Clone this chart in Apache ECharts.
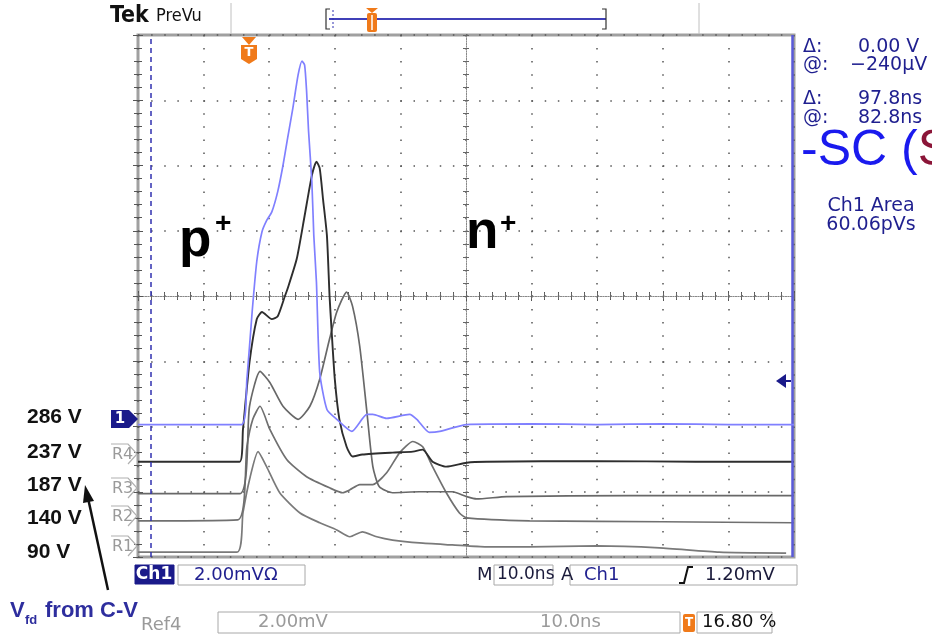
<!DOCTYPE html>
<html>
<head>
<meta charset="utf-8">
<title>PreVu</title>
<script src="https://cdn.jsdelivr.net/npm/echarts@6/dist/echarts.min.js"></script>
<style>
  html, body { margin: 0; padding: 0; background: #fff; }
  #chart { width: 932px; height: 636px; }
</style>
</head>
<body>
<div id="chart"></div>
<script>
// time in ns from the left edge of the screen (10 ns/div), signal in mV (2 mV/div, 0 = screen centre)
const ch1 = [[0,-3.94],[15.8,-3.94],[16.6,-2.55],[17.4,-0.49],[18.1,1.05],[18.9,1.97],[19.6,2.31],[20.4,2.58],
  [21.3,3.2],[22.1,4.0],[22.8,4.83],[23.6,5.75],[24.4,6.77],[25.0,7.2],[25.4,7.08],[25.7,6.28],[26.0,5.05],
  [26.5,3.51],[26.8,1.85],[27.2,0.43],[27.7,-2.34],[28.8,-3.48],[30.3,-3.78],[32.6,-4.15],[34.9,-3.63],
  [35.8,-3.63],[37.9,-3.75],[41.4,-3.63],[42.5,-3.78],[44.4,-4.18],[46.0,-4.15],[50.1,-3.94],[60,-3.92],
  [70,-3.94],[80,-3.92],[90,-3.94],[100,-3.94]]
const ref4 = [[0,-5.08],[15.5,-5.08],[16.0,-4.09],[17.0,-2.03],[18.1,-0.71],[18.9,-0.49],[20.4,-0.71],[21.3,-0.62],
  [22.4,0],[22.8,0.22],[24.2,1.14],[25.4,2.46],[26.5,3.69],[27.2,4.12],[27.7,3.91],[28.2,2.98],[28.8,1.85],
  [29.2,0],[29.5,-1.02],[30.0,-2.55],[30.7,-3.78],[31.8,-4.62],[32.7,-4.92],[34.2,-4.86],[38.8,-4.8],
  [41.9,-4.77],[43.4,-4.71],[44.9,-5.08],[47.0,-5.23],[50.1,-5.11],[53.1,-5.08],[70,-5.06],[85,-5.08],[100,-5.08]]
const ref3 = [[0,-6.06],[15.5,-6.06],[17.0,-3.38],[18.6,-2.31],[20.1,-2.65],[22.1,-3.38],[24.4,-3.78],[26.2,-3.38],
  [27.7,-2.55],[29.2,-1.32],[30.3,-0.49],[31.8,0.12],[32.7,-0.31],[33.8,-1.54],[34.9,-3.57],[35.8,-5.23],
  [36.8,-5.85],[38.8,-6.03],[42.9,-6.0],[47.9,-6.0],[50.1,-6.15],[51.6,-6.22],[56.2,-6.15],[75,-6.12],[100,-6.12]]
const ref2 = [[0,-6.89],[15.2,-6.86],[16.6,-4.62],[17.5,-3.78],[18.6,-3.38],[20.1,-4.09],[22.7,-5.02],[25.7,-5.54],
  [29.2,-5.88],[31.2,-6.03],[32.3,-5.94],[33.8,-5.78],[35.8,-5.78],[37.9,-5.42],[39.9,-4.8],[41.9,-4.46],
  [43.4,-4.62],[44.9,-5.23],[47.0,-6.03],[49.0,-6.65],[50.1,-6.8],[59.7,-6.89],[80,-6.92],[100,-6.95]]
const ref1 = [[0,-7.85],[15.1,-7.85],[16.0,-6.65],[17.0,-5.63],[18.3,-4.77],[19.6,-5.23],[21.6,-6.03],[24.7,-6.65],
  [27.7,-6.95],[30.3,-7.17],[32.3,-7.38],[34.2,-7.23],[36.4,-7.38],[38.8,-7.48],[42.9,-7.57],[47.9,-7.63],
  [53.1,-7.69],[59.7,-7.69],[69.9,-7.66],[79.5,-7.72],[88.6,-7.85],[98.8,-7.88]]

const biasLabels = ['286 V', '237 V', '187 V', '140 V', '90 V']
const refNames = ['R4', 'R3', 'R2', 'R1']
const cursorTimes = [2.0, 99.8]

const FONT = "'DejaVu Sans', sans-serif"
const NAVY = '#1f1f8f'
const ORANGE = '#f07a1a'

const myChart = echarts.init(document.getElementById('chart'))

// graticule lives in grid 0 (edges + dotted divisions), centre cross in grid 1
const plot = { left: 138, top: 35, width: 656, height: 522 }

const edgeTick = { show: true, inside: true, length: 5, lineStyle: { color: '#555', width: 1 } }
const edgeMinor = { show: true, splitNumber: 5, length: 4, lineStyle: { color: '#555', width: 1 } }
const centreLine = { show: true, onZero: true, lineStyle: { color: '#888', width: 1, type: [1, 1.5] } }
const centreTick = { show: true, length: 3, lineStyle: { color: '#666', width: 1 } }
const centreMinor = { show: true, splitNumber: 5, length: 3, lineStyle: { color: '#666', width: 1 } }

const xAxes = [
  { gridIndex: 0, type: 'value', min: 0, max: 100, interval: 10, position: 'bottom',
    axisLine: { show: false }, axisTick: edgeTick, minorTick: edgeMinor, axisLabel: { show: false },
    splitLine: { show: true, lineStyle: { color: '#555', width: 1.5, type: [1.5, 11.55] } } },
  { gridIndex: 0, type: 'value', min: 0, max: 100, interval: 10, position: 'top',
    axisLine: { show: false }, axisTick: edgeTick, minorTick: edgeMinor, axisLabel: { show: false },
    splitLine: { show: false } },
  { gridIndex: 1, type: 'value', min: -50, max: 50, interval: 10, position: 'bottom',
    axisLine: centreLine, axisTick: { ...centreTick, inside: true }, minorTick: centreMinor,
    axisLabel: { show: false }, splitLine: { show: false } },
  { gridIndex: 1, type: 'value', min: -50, max: 50, interval: 10, position: 'top',
    axisLine: centreLine, axisTick: { ...centreTick, inside: true }, minorTick: centreMinor,
    axisLabel: { show: false }, splitLine: { show: false } }
]
const yAxes = [
  { gridIndex: 0, type: 'value', min: -8, max: 8, interval: 2, position: 'left',
    axisLine: { show: false }, axisTick: edgeTick, minorTick: edgeMinor, axisLabel: { show: false },
    splitLine: { show: true, lineStyle: { color: '#555', width: 1.5, type: [1.5, 11.62] } } },
  { gridIndex: 0, type: 'value', min: -8, max: 8, interval: 2, position: 'right',
    axisLine: { show: false }, axisTick: edgeTick, minorTick: edgeMinor, axisLabel: { show: false },
    splitLine: { show: false } },
  { gridIndex: 1, type: 'value', min: -8, max: 8, interval: 2, position: 'left',
    axisLine: centreLine, axisTick: { ...centreTick, inside: true }, minorTick: centreMinor,
    axisLabel: { show: false }, splitLine: { show: false } },
  { gridIndex: 1, type: 'value', min: -8, max: 8, interval: 2, position: 'right',
    axisLine: centreLine, axisTick: { ...centreTick, inside: true }, minorTick: centreMinor,
    axisLabel: { show: false }, splitLine: { show: false } }
]

const trace = (name, data, color, z, w = 1.7) => ({
  name, type: 'line', data, xAxisIndex: 0, yAxisIndex: 0, showSymbol: false, smooth: 0.2,
  lineStyle: { color, width: w }, z, silent: true
})

const series = [
  trace('R1', ref1, '#7a7a7a', 3),
  trace('R2', ref2, '#707070', 3),
  trace('R3', ref3, '#686868', 3),
  trace('R4', ref4, '#2e2e2e', 4, 1.9),
  {
    ...trace('Ch1', ch1, '#8080ff', 5),
    markLine: {
      silent: true, symbol: 'none', label: { show: false },
      data: [
        { xAxis: cursorTimes[0], lineStyle: { color: '#3030b0', width: 1.5, type: [5, 4] } },
        { xAxis: cursorTimes[1], lineStyle: { color: '#5a5ad8', width: 2.5, type: 'solid' } }
      ]
    }
  }
]

// --- screen furniture ---
const txt = (x, y, text, opt = {}) => ({
  type: 'text', z: 20, silent: true,
  style: {
    x, y, text, fill: opt.fill || NAVY,
    font: opt.font || `16px ${FONT}`,
    textAlign: opt.align || 'left', textVerticalAlign: opt.va || 'middle'
  }
})
const box = (x, y, w, h, opt = {}) => ({
  type: 'rect', z: 19, silent: true, shape: { x, y, width: w, height: h },
  style: { fill: opt.fill || '#fff', stroke: opt.stroke || '#a8a8a8', lineWidth: 1 }
})
const poly = (points, opt = {}) => ({
  type: opt.closed ? 'polygon' : 'polyline', z: 20, silent: true, shape: { points },
  style: { fill: opt.fill || null, stroke: opt.stroke || null, lineWidth: opt.lw || 1 }
})
const line = (x1, y1, x2, y2, stroke, lw = 1, dash) => ({
  type: 'line', z: 20, silent: true, shape: { x1, y1, x2, y2 },
  style: { stroke, lineWidth: lw, lineDash: dash || null }
})

const graphic = []

// header
graphic.push(txt(110, 16, 'Tek', { font: `bold 23px 'DejaVu Sans Condensed', ${FONT}`, fill: '#111' }))
graphic.push(txt(156, 16, 'PreVu', { font: `18px 'DejaVu Sans Condensed', ${FONT}`, fill: '#111' }))
graphic.push(line(231, 3, 231, 34, '#c0c0c0', 1))
graphic.push(line(699, 3, 699, 34, '#c0c0c0', 1))
graphic.push(line(329, 19, 606, 19, '#4040b8', 2))
graphic.push(poly([[330, 9], [326, 9], [326, 29], [330, 29]], { stroke: '#333', lw: 1.2 }))
graphic.push(poly([[602, 9], [606, 9], [606, 29], [602, 29]], { stroke: '#333', lw: 1.2 }))
graphic.push(line(333, 10, 333, 28, '#3030b0', 1, [2, 2]))
graphic.push(poly([[366, 8], [378, 8], [372, 13]], { closed: true, fill: ORANGE }))
graphic.push({ type: 'rect', z: 20, silent: true, shape: { x: 367, y: 13, width: 10, height: 19, r: 2 },
  style: { fill: ORANGE } })
graphic.push(line(372, 15, 372, 30, '#fff', 1.5))

// trigger position marker on the screen top
graphic.push(poly([[242, 37], [256, 37], [249, 45]], { closed: true, fill: ORANGE }))
graphic.push(poly([[241, 45], [257, 45], [257, 59], [249, 64], [241, 59]], { closed: true, fill: ORANGE }))
graphic.push(txt(249, 53, 'T', { font: `bold 13px ${FONT}`, fill: '#fff', align: 'center' }))

// trigger level arrow on the right
graphic.push(poly([[776, 381], [786, 374], [786, 388]], { closed: true, fill: '#1a1a8a' }))
graphic.push(line(784, 381, 791, 381, '#1a1a8a', 2))

// channel / reference markers on the left edge
graphic.push(poly([[111, 410], [129, 410], [138, 419], [129, 428], [111, 428]], { closed: true, fill: '#1a1a8a' }))
graphic.push(txt(120, 419, '1', { font: `bold 15px ${FONT}`, fill: '#fff', align: 'center' }))
const refY = [454, 488, 516, 546]
refNames.forEach((n, i) => {
  const yc = refY[i]
  graphic.push(poly([[111, yc - 10], [128, yc - 10], [137, yc], [128, yc + 10]], { stroke: '#b0b0b0', lw: 1.2 }))
  graphic.push(txt(112, yc + 1, n, { font: `16px ${FONT}`, fill: '#9a9a9a' }))
})

// bias voltages
const biasY = [417, 452, 485, 518, 552]
biasLabels.forEach((t, i) => {
  graphic.push(txt(27, biasY[i], t, { font: "bold 21px 'Liberation Sans', Arial, sans-serif", fill: '#111' }))
})

// arrow + V_fd note
graphic.push(line(108, 590, 88, 498, '#111', 2.5))
graphic.push(poly([[85, 485], [94, 501], [83, 503]], { closed: true, fill: '#111' }))
graphic.push(txt(10, 611, 'V', { font: "bold 22px 'Liberation Sans', Arial, sans-serif", fill: '#2e2e9e' }))
graphic.push(txt(25, 620, 'fd', { font: "bold 13px 'Liberation Sans', Arial, sans-serif", fill: '#2e2e9e' }))
graphic.push(txt(45, 611, 'from C-V', { font: "bold 22px 'Liberation Sans', Arial, sans-serif", fill: '#2e2e9e' }))

// p+ / n+ labels
graphic.push(txt(179, 241, 'p', { font: "bold 53px 'Liberation Sans', Arial, sans-serif", fill: '#000' }))
graphic.push(txt(215, 224, '+', { font: "bold 28px 'Liberation Sans', Arial, sans-serif", fill: '#000' }))
graphic.push(txt(466, 233, 'n', { font: "bold 53px 'Liberation Sans', Arial, sans-serif", fill: '#000' }))
graphic.push(txt(500, 224, '+', { font: "bold 28px 'Liberation Sans', Arial, sans-serif", fill: '#000' }))

// cursor readouts
const RF = `19px ${FONT}`
graphic.push(txt(803, 47, 'Δ:', { font: RF }))
graphic.push(txt(858, 47, '0.00 V', { font: RF }))
graphic.push(txt(803, 65, '@:', { font: RF }))
graphic.push(txt(850, 65, '−240µV', { font: RF }))
graphic.push(txt(803, 99, 'Δ:', { font: RF }))
graphic.push(txt(858, 99, '97.8ns', { font: RF }))
graphic.push(txt(803, 118, '@:', { font: RF }))
graphic.push(txt(858, 118, '82.8ns', { font: RF }))
graphic.push({
  type: 'text', z: 20, silent: true,
  style: {
    x: 801, y: 151, textVerticalAlign: 'middle',
    text: '{b|-SC (}{r|S}',
    rich: {
      b: { font: "50px 'Liberation Sans', Arial, sans-serif", fill: '#1a1aee' },
      r: { font: "50px 'Liberation Sans', Arial, sans-serif", fill: '#8b1538' }
    }
  }
})
graphic.push(txt(871, 206, 'Ch1 Area', { font: RF, align: 'center' }))
graphic.push(txt(871, 225, '60.06pVs', { font: RF, align: 'center' }))

// bottom status bar
const BF = `18px ${FONT}`
graphic.push(box(135, 565, 39, 19, { fill: '#1a1a8a', stroke: '#1a1a8a' }))
graphic.push(txt(154, 575, 'Ch1', { font: `bold 17px ${FONT}`, fill: '#fff', align: 'center' }))
graphic.push(box(178, 565, 127, 20))
graphic.push(txt(194, 575, '2.00mVΩ', { font: BF }))
graphic.push(txt(477, 575, 'M', { font: BF, fill: '#1a1a3a' }))
graphic.push(box(494, 565, 59, 20))
graphic.push(txt(497, 575, '10.0ns', { font: `17px ${FONT}`, fill: '#1a1a3a' }))
graphic.push(txt(561, 575, 'A', { font: BF, fill: '#1a1a3a' }))
graphic.push(box(570, 565, 227, 20))
graphic.push(txt(584, 575, 'Ch1', { font: BF }))
graphic.push(poly([[679, 583], [684, 583], [688, 567], [693, 567]], { stroke: '#111', lw: 2 }))
graphic.push(txt(705, 575, '1.20mV', { font: BF, fill: '#1a1a3a' }))

graphic.push(txt(141, 625, 'Ref4', { font: `18px ${FONT}`, fill: '#9a9a9a' }))
graphic.push(box(218, 612, 462, 21))
graphic.push(txt(258, 622, '2.00mV', { font: BF, fill: '#9a9a9a' }))
graphic.push(txt(540, 622, '10.0ns', { font: BF, fill: '#9a9a9a' }))
graphic.push({ type: 'rect', z: 20, silent: true, shape: { x: 683, y: 614, width: 12, height: 18, r: 2 },
  style: { fill: ORANGE } })
graphic.push(txt(689, 623, 'T', { font: `bold 12px ${FONT}`, fill: '#fff', align: 'center' }))
graphic.push(box(697, 612, 75, 21))
graphic.push(txt(702, 622, '16.80 %', { font: BF, fill: '#111' }))

const option = {
  backgroundColor: '#fff',
  animation: false,
  grid: [
    { ...plot, show: true, borderColor: '#a0a0a0', borderWidth: 3, backgroundColor: 'transparent' },
    { ...plot, show: false }
  ],
  xAxis: xAxes,
  yAxis: yAxes,
  series,
  graphic
}

myChart.setOption(option)
window.addEventListener('resize', () => myChart && myChart.resize())
</script>
</body>
</html>
